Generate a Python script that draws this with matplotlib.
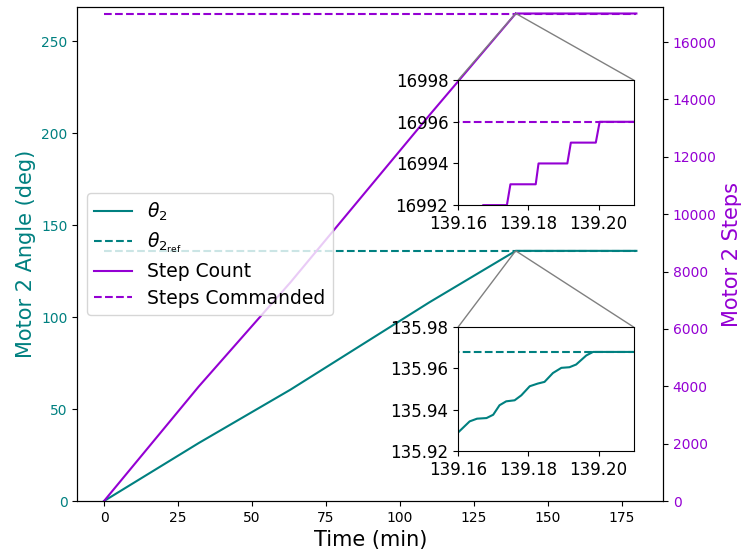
import matplotlib
matplotlib.use("Agg")
import matplotlib.pyplot as plt
from matplotlib.ticker import FormatStrFormatter
from mpl_toolkits.axes_grid1.inset_locator import mark_inset

teal = "teal"
purple = "darkviolet"

# motor angle (deg) vs time (min)
time_angle = [0, 32, 63, 110, 139.160, 139.1633, 139.1654, 139.1681, 139.170,
              139.1718, 139.1737, 139.1761, 139.178, 139.1804, 139.1827, 139.1846,
              139.187, 139.1894, 139.1917, 139.1936, 139.1965, 139.1984, 180]
angle = [0, 31.5, 60.5, 108.0, 135.929, 135.9344, 135.9357, 135.936, 135.9376,
         135.9422, 135.9441, 135.9446, 135.947, 135.9514, 135.9527, 135.9535,
         135.9578, 135.9603, 135.9606, 135.9619, 135.9663, 135.968, 135.968]
angle_ref = 135.968

# step count vs time (min)
time_steps = [0, 32, 63, 110, 139.1660, 139.1671, 139.1739, 139.1749, 139.1821,
              139.1829, 139.1911, 139.1921, 139.1992, 139.2003, 180]
steps = [0, 3990, 7620, 13450, 16991, 16992, 16992, 16993, 16993,
         16994, 16994, 16995, 16995, 16996, 16996]
steps_cmd = 16996

t_end = 180

fig = plt.figure(figsize=(7.48, 5.57), dpi=100)
ax1 = fig.add_subplot(111)
fig.subplots_adjust(left=0.1035, right=0.8864, bottom=0.1005, top=0.9874)
ax2 = ax1.twinx()

l1, = ax1.plot(time_angle, angle, color=teal, label=r"$\theta_2$")
l2, = ax1.plot([0, t_end], [angle_ref, angle_ref], "--", color=teal,
               label=r"$\theta_{2_\mathrm{ref}}$")
l3, = ax2.plot(time_steps, steps, color=purple, label="Step Count")
l4, = ax2.plot([0, t_end], [steps_cmd, steps_cmd], "--", color=purple,
               label="Steps Commanded")

ax1.set_xlim(-9, 189)
ax1.set_ylim(0, 268.5)
ax2.set_ylim(0, 17222)

ax1.set_xlabel("Time (min)", fontsize=15)
ax1.set_ylabel("Motor 2 Angle (deg)", color=teal, fontsize=15)
ax2.set_ylabel("Motor 2 Steps", color=purple, fontsize=15)
ax1.tick_params(axis="y", labelcolor=teal)
ax2.tick_params(axis="y", labelcolor=purple)

ax2.legend(handles=[l1, l2, l3, l4], loc="center left", fontsize=13.5,
           labelspacing=0.4)

# inset: step count
axins1 = ax2.inset_axes([0.65, 0.599, 0.30, 0.253])
axins1.plot(time_steps, steps, color=purple)
axins1.plot([0, t_end], [steps_cmd, steps_cmd], "--", color=purple)
axins1.set_xlim(139.16, 139.21)
axins1.set_ylim(16992, 16998)
axins1.set_xticks([139.16, 139.18, 139.20])
axins1.set_yticks([16992, 16994, 16996, 16998])
axins1.xaxis.set_major_formatter(FormatStrFormatter("%.2f"))
axins1.yaxis.set_major_formatter(FormatStrFormatter("%d"))
axins1.tick_params(labelsize=12)
mark_inset(ax2, axins1, loc1=2, loc2=1, fc="none", ec="0.5")

# inset: angle
axins2 = ax1.inset_axes([0.65, 0.101, 0.30, 0.251])
axins2.plot(time_angle, angle, color=teal)
axins2.plot([0, t_end], [angle_ref, angle_ref], "--", color=teal)
axins2.set_xlim(139.16, 139.21)
axins2.set_ylim(135.92, 135.98)
axins2.set_xticks([139.16, 139.18, 139.20])
axins2.set_yticks([135.92, 135.94, 135.96, 135.98])
axins2.xaxis.set_major_formatter(FormatStrFormatter("%.2f"))
axins2.yaxis.set_major_formatter(FormatStrFormatter("%.2f"))
axins2.tick_params(labelsize=12)
mark_inset(ax1, axins2, loc1=2, loc2=1, fc="none", ec="0.5")

fig.savefig("out.png", dpi=100)
